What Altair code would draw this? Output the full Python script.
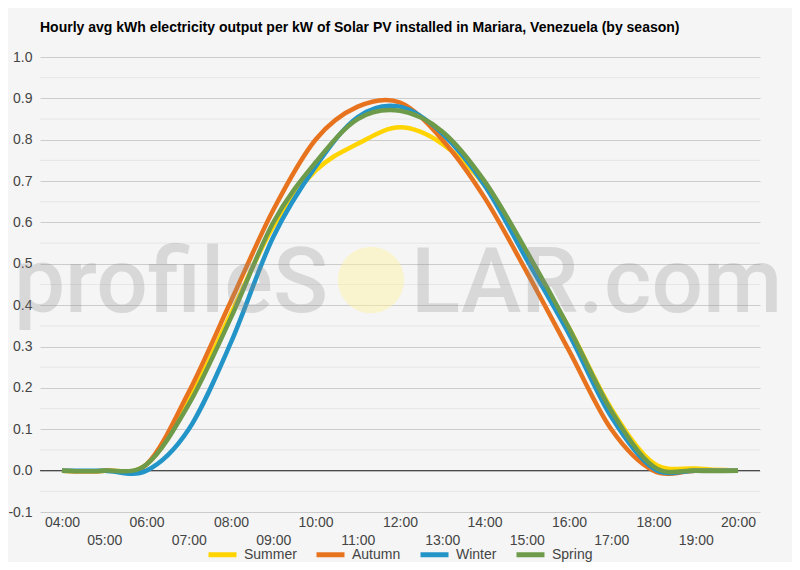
import altair as alt
import pandas as pd

hours = list(range(4, 21))
seasons = ["Summer", "Autumn", "Winter", "Spring"]
colors = ["#FFD400", "#E8731E", "#2394C8", "#6D9B4A"]

summer = [0.0, 0.0, 0.015, 0.17, 0.38, 0.59, 0.725, 0.79, 0.83, 0.79, 0.69, 0.52, 0.345, 0.15, 0.018, 0.005, 0.0]
autumn = [0.0, 0.0, 0.015, 0.19, 0.41, 0.63, 0.80, 0.88, 0.89, 0.80, 0.66, 0.48, 0.29, 0.10, 0.0, 0.0, 0.0]
winter = [0.0, 0.0, 0.0, 0.10, 0.31, 0.565, 0.735, 0.855, 0.88, 0.815, 0.69, 0.51, 0.33, 0.13, 0.005, 0.0, 0.0]
spring = [0.0, 0.0, 0.015, 0.16, 0.37, 0.60, 0.745, 0.85, 0.87, 0.82, 0.70, 0.53, 0.345, 0.145, 0.01, 0.0, 0.0]

major_ticks = [-0.1, 0.0, 0.1, 0.2, 0.3, 0.4, 0.5, 0.6, 0.7, 0.8, 0.9, 1.0]
minor_grid = [-0.05, 0.05, 0.15, 0.25, 0.35, 0.45, 0.55, 0.65, 0.75, 0.85, 0.95]
zero_line = [0.0]

title_text = "Hourly avg kWh electricity output per kW of Solar PV installed in Mariara, Venezuela (by season)"

rows = []
for s, vals in zip(seasons, [summer, autumn, winter, spring]):
    for h, v in zip(hours, vals):
        rows.append({"hour": h, "season": s, "kwh": v})
df = pd.DataFrame(rows)

FONT = "Liberation Sans"
x_scale = alt.Scale(domain=[3.48, 20.52], nice=False, zero=False)
y_scale = alt.Scale(domain=[-0.1, 1.0], nice=False, zero=False)

y_axis = alt.Axis(
    values=major_ticks,
    labelExpr="replace(format(datum.value, '.1f'), '\u2212', '-')",
    grid=True,
    gridColor="#cccccc",
    ticks=False,
    domain=False,
    labelFont=FONT,
    labelFontSize=14,
    labelColor="#444444",
    labelPadding=8,
)

minor = alt.Chart(pd.DataFrame({"v": minor_grid})).mark_rule(
    color="#e6e6e6", strokeWidth=1
).encode(y=alt.Y("v:Q", scale=y_scale, axis=y_axis, title=None))

zero = alt.Chart(pd.DataFrame({"v": zero_line})).mark_rule(
    color="#333333", strokeWidth=1
).encode(y=alt.Y("v:Q", scale=y_scale, axis=y_axis, title=None))

lines = alt.Chart(df).mark_line(
    interpolate="cardinal", strokeWidth=4.5
).encode(
    x=alt.X(
        "hour:Q",
        scale=x_scale,
        title=None,
        axis=alt.Axis(
            values=hours,
            labelExpr="(datum.value < 10 ? '0' : '') + datum.value + ':00'",
            grid=False,
            ticks=False,
            domain=False,
            labelFont=FONT,
            labelFontSize=14,
            labelColor="#444444",
            labelBaseline="top",
            labelPadding={"condition": {"test": "datum.value % 2 == 1", "value": 21}, "value": 3},
            labelOverlap=False,
            labelFlush=False,
        ),
    ),
    y=alt.Y("kwh:Q", scale=y_scale, title=None, axis=y_axis),
    color=alt.Color(
        "season:N",
        scale=alt.Scale(domain=seasons, range=colors),
        sort=seasons,
        legend=alt.Legend(
            title=None,
            orient="none",
            legendX=166,
            legendY=481,
            direction="horizontal",
            symbolType="stroke",
            symbolSize=784,
            symbolStrokeWidth=5,
            labelFont=FONT,
            labelFontSize=14,
            labelColor="#444444",
            labelOffset=5,
            columnPadding=9,
        ),
    ),
)

wm_left = alt.Chart(pd.DataFrame({"t": ["profileS"]})).mark_text(
    font="Roboto", fontSize=91, fontWeight=500, align="right", baseline="alphabetic",
    color="#8a8a8a", opacity=0.26
).encode(text="t:N", x=alt.value(288), y=alt.value(255))

wm_right = alt.Chart(pd.DataFrame({"t": ["LAR.com"]})).mark_text(
    font="Roboto", fontSize=91, fontWeight=500, align="left", baseline="alphabetic",
    color="#8a8a8a", opacity=0.26
).encode(text="t:N", x=alt.value(371), y=alt.value(255))

sun = alt.Chart(pd.DataFrame({"t": ["sun"]})).mark_circle(
    color="#fff2a0", opacity=0.45, size=4400
).encode(x=alt.value(331), y=alt.value(223))

chart = alt.layer(minor, zero, lines, wm_left, sun, wm_right).properties(
    width=720,
    height=455,
    autosize="none",
    padding={"left": 32, "top": 49, "right": 32, "bottom": 50},
    title=alt.TitleParams(
        title_text, anchor="start", frame="group", font=FONT, fontSize=14,
        fontWeight="bold", color="#000000", offset=15
    ),
).configure(background="#f5f5f5").configure_view(stroke=None)

chart.save("out.html", embed_options={"renderer": "svg", "actions": False})
